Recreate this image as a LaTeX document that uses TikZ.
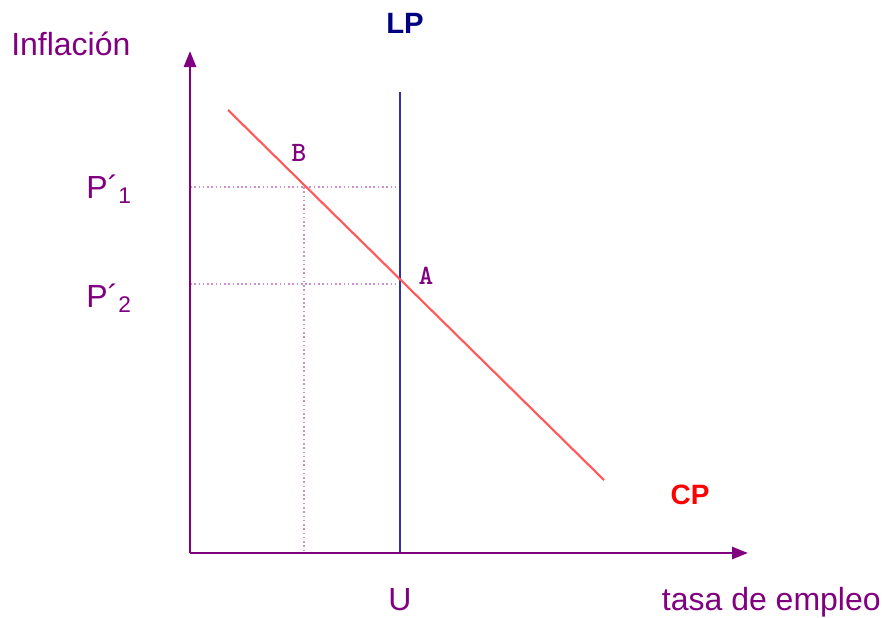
\documentclass[tikz,border=0pt]{standalone}
\usepackage{fontspec}
\setmainfont{Liberation Sans}
\usetikzlibrary{arrows.meta}
\definecolor{axpurple}{HTML}{800080}
\definecolor{lpblue}{HTML}{3030A8}
\definecolor{cpred}{HTML}{FF5A5A}
\definecolor{dotpink}{HTML}{D090D0}
\definecolor{navy}{HTML}{000080}
\begin{document}
\begin{tikzpicture}[x=0.75pt,y=-0.75pt,
  axis/.style={draw=axpurple,line width=2pt,-{Triangle[length=12pt,width=9pt]}},
  guide/.style={draw=dotpink,line width=1.2pt,dotted},
  lbl/.style={text=axpurple,font=\fontsize{24}{27}\selectfont,inner sep=0pt},
  ptlbl/.style={text=axpurple,font=\ttfamily\bfseries\fontsize{21}{24}\selectfont,inner sep=0pt},
]
\useasboundingbox (0,0) rectangle (883,618);
\coordinate (O) at (190,553);
\coordinate (Ytip) at (190,51);
\coordinate (Xtip) at (748,553);
\coordinate (LPtop) at (400,92);
\coordinate (LPbot) at (400,553);
\coordinate (CPs) at (228,110);
\coordinate (CPe) at (604,480);
\coordinate (Y1) at (190,187);
\coordinate (B) at (304,187);
\coordinate (Y2) at (190,284);
\coordinate (A) at (400,284);
\coordinate (Bx) at (304,553);
% guides
\draw[guide] (Y1) -- (LPtop |- Y1);
\draw[guide] (Y2) -- (A);
\draw[guide] (B) -- (Bx);
% curves
\draw[lpblue,line width=1.5pt] (LPtop) -- (LPbot);
\draw[cpred,line width=1.6pt] (CPs) -- (CPe);
% axes
\draw[axis] (O) -- (Ytip);
\draw[axis] (O) -- (Xtip);
% labels
\node[lbl,anchor=west] (infl) at (11,44) {Inflación};
\node[lbl,anchor=east] (tasa) at (881,602) {tasa de empleo};
\node[lbl] (U) at (400,600) {U};
\node[lbl,anchor=west] (p1) at (86,189) {P´\raisebox{-0.3ex}{\fontsize{17}{20}\selectfont 1}};
\node[lbl,anchor=west] (p2) at (86,298) {P´\raisebox{-0.3ex}{\fontsize{17}{20}\selectfont 2}};
\node[text=navy,font=\bfseries\fontsize{22}{26}\selectfont,inner sep=0pt] (LP) at (405,23) {LP};
\node[text=red,font=\bfseries\fontsize{21}{24}\selectfont,inner sep=0pt] (CP) at (690,495) {CP};
\node[ptlbl] (Blbl) at (299,153) {B};
\node[ptlbl] (Albl) at (426,276) {A};
\end{tikzpicture}
\end{document}
